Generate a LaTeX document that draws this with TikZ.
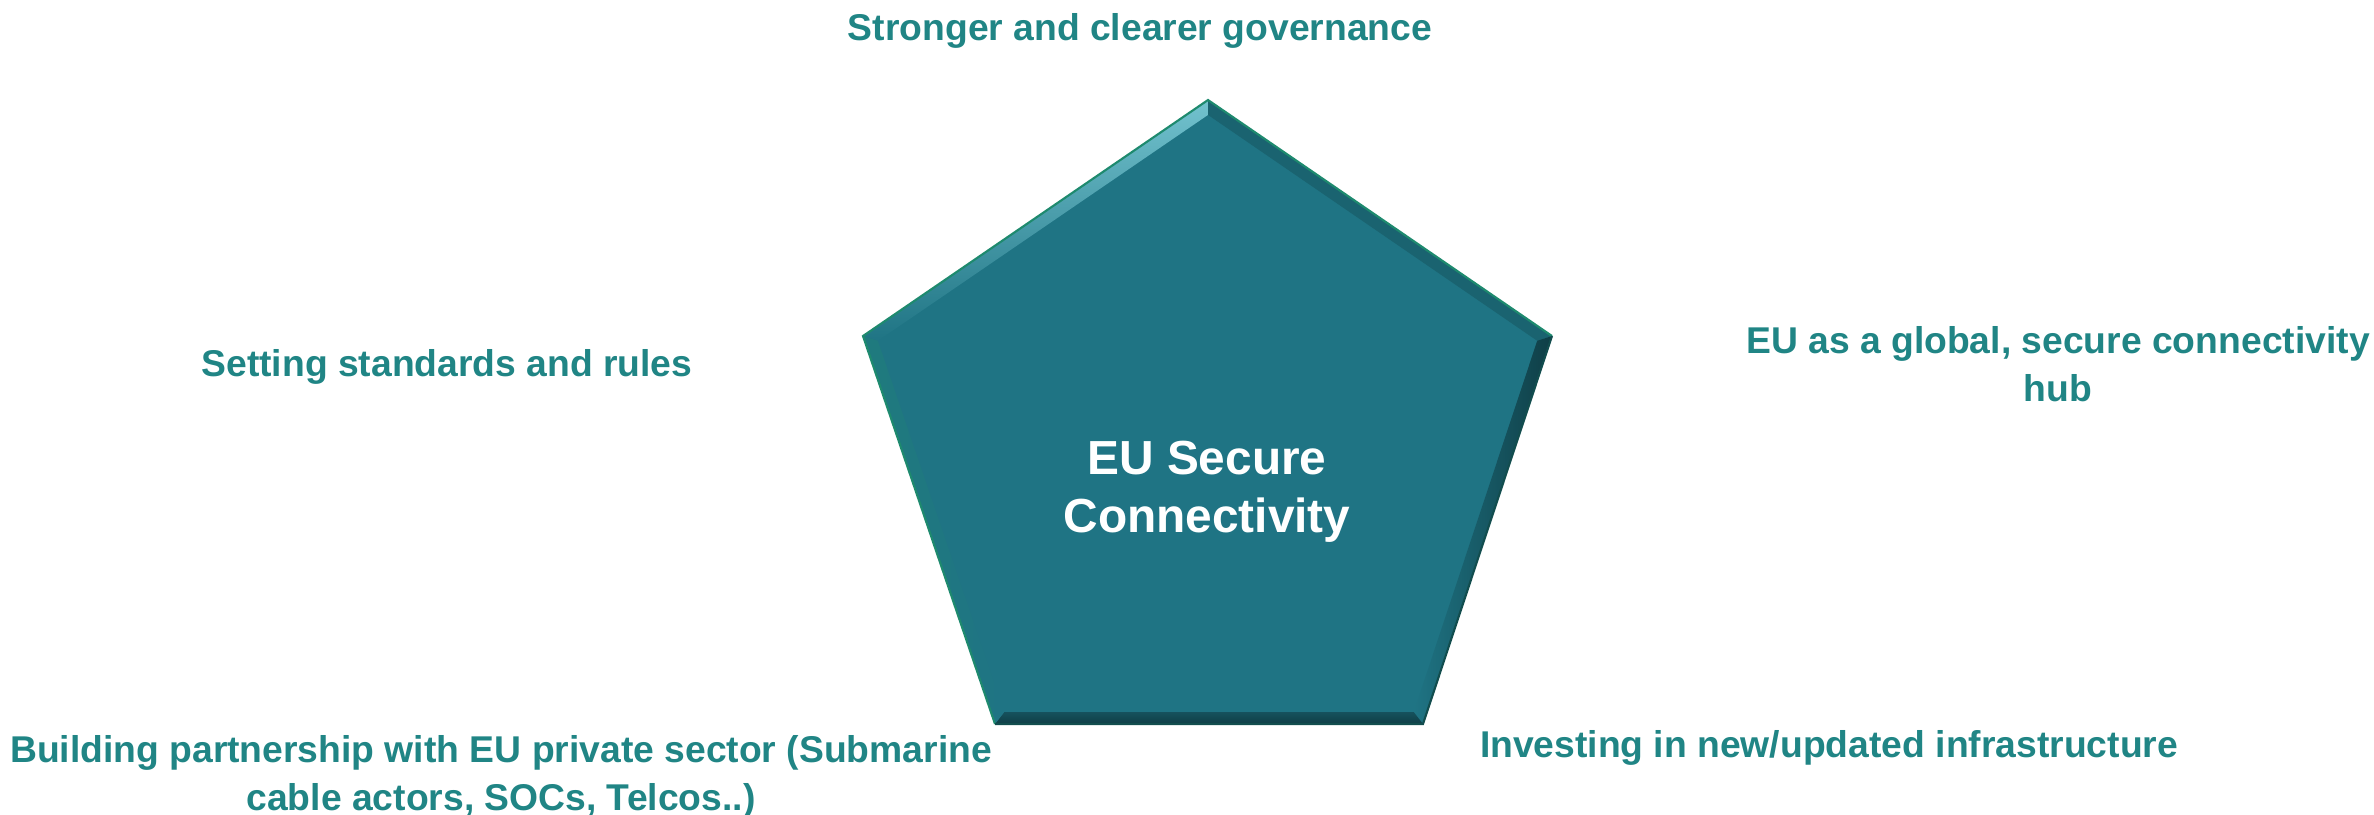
\documentclass[tikz,border=0pt]{standalone}
\usepackage{fontspec}
\setmainfont{Liberation Sans}
\usetikzlibrary{calc}
\definecolor{pfill}{HTML}{1F7484}
\definecolor{ptext}{HTML}{208585}
\definecolor{pedge}{HTML}{1E8A6E}
\definecolor{plight}{HTML}{4FB3C2}
\definecolor{pdark}{HTML}{0F3E46}
\tikzset{
  lbl/.style={text=ptext, font=\bfseries\fontsize{10.6}{13.6}\selectfont, align=center, inner sep=0pt},
  ctr/.style={text=white, font=\bfseries\fontsize{13.6}{16.6}\selectfont, align=center, inner sep=0pt},
}
\begin{document}
\begin{tikzpicture}[x=0.01cm,y=-0.01cm]
\useasboundingbox (0,0) rectangle (2374,814);
% outer vertices
\coordinate (A) at (1208,100);
\coordinate (B) at (1552,336);
\coordinate (C) at (1423,724);
\coordinate (D) at (995,724);
\coordinate (E) at (863,336);
\coordinate (O) at (1208,447);
% inner vertices
\coordinate (a) at ($(O)!0.957!(A)$);
\coordinate (b) at ($(O)!0.957!(B)$);
\coordinate (c) at ($(O)!0.957!(C)$);
\coordinate (d) at ($(O)!0.957!(D)$);
\coordinate (e) at ($(O)!0.957!(E)$);
\fill[pfill] (A) -- (B) -- (C) -- (D) -- (E) -- cycle;
% bevels
\shade[top color=plight!80!white, bottom color=pfill] (E) -- (A) -- (a) -- (e) -- cycle;
\fill[pfill!85!black] (A) -- (B) -- (b) -- (a) -- cycle;
\shade[left color=pfill, right color=pdark] (B) -- (C) -- (c) -- (b) -- cycle;
\shade[top color=pfill!70!black, bottom color=pdark] (C) -- (D) -- (d) -- (c) -- cycle;
\shade[left color=pfill!70!pedge, right color=pfill] (D) -- (E) -- (e) -- (d) -- cycle;
\draw[pedge, line width=0.6pt] (D) -- (E) -- (A) -- (B);
\draw[pdark!80!pedge, line width=0.6pt] (B) -- (C) -- (D);
\node[ctr] (center) at (1207,492) {EU Secure\\Connectivity};
\node[lbl] (top) at (1140,31) {Stronger and clearer governance};
\node[lbl] (left) at (447,367) {Setting standards and rules};
\node[lbl] (right) at (2058,364) {EU as a global, secure connectivity\\hub};
\node[lbl] (bl) at (501,777) {Building partnership with EU private sector (Submarine\\cable actors, SOCs, Telcos..)};
\node[lbl] (br) at (1829,748) {Investing in new/updated infrastructure};
\end{tikzpicture}
\end{document}
